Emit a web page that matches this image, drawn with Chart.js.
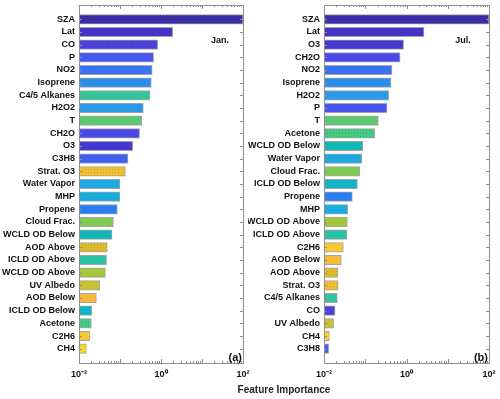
<!DOCTYPE html>
<html>
<head>
<meta charset="utf-8">
<script src="https://cdn.jsdelivr.net/npm/chart.js@4.4.1/dist/chart.umd.min.js"></script>
<style>
  body { margin: 0; background: #fff; }
  #wrap { position: relative; width: 500px; height: 399px; overflow: hidden; }
  #wrap canvas { position: absolute; top: 0; }
  #xtitle {
    position: absolute; left: 184px; width: 200px; top: 384px;
    text-align: center; font: bold 10px "Liberation Sans", Arial, sans-serif; color: #222;
  }
</style>
</head>
<body>
<div id="wrap">
  <canvas id="chartJan" style="left:0px"></canvas>
  <canvas id="chartJul" style="left:248px"></canvas>
  <div id="xtitle">Feature Importance</div>
</div>
<script>
// panel (a) January
var janLabels = ["SZA", "Lat", "CO", "P", "NO2", "Isoprene", "C4/5 Alkanes", "H2O2", "T", "CH2O",
    "O3", "C3H8", "Strat. O3", "Water Vapor", "MHP", "Propene", "Cloud Frac.", "WCLD OD Below",
    "AOD Above", "ICLD OD Above", "WCLD OD Above", "UV Albedo", "AOD Below", "ICLD OD Below",
    "Acetone", "C2H6", "CH4"];
var janValues = [100, 1.93, 0.83, 0.66, 0.61, 0.58, 0.54, 0.37, 0.34, 0.30,
    0.204, 0.157, 0.135, 0.100, 0.100, 0.086, 0.069, 0.064,
    0.049, 0.047, 0.044, 0.032, 0.0265, 0.0204,
    0.020, 0.0185, 0.0151];

// panel (b) July
var julLabels = ["SZA", "Lat", "O3", "CH2O", "NO2", "Isoprene", "H2O2", "P", "T", "Acetone",
    "WCLD OD Below", "Water Vapor", "Cloud Frac.", "ICLD OD Below", "Propene", "MHP",
    "WCLD OD Above", "ICLD OD Above", "C2H6", "AOD Below", "AOD Above", "Strat. O3",
    "C4/5 Alkanes", "CO", "UV Albedo", "CH4", "C3H8"];
var julValues = [100, 2.65, 0.85, 0.70, 0.445, 0.42, 0.37, 0.337, 0.207, 0.169,
    0.0866, 0.082, 0.0746, 0.0643, 0.0486, 0.0375,
    0.0368, 0.036, 0.0294, 0.0263, 0.0218, 0.022,
    0.021, 0.0185, 0.0171, 0.0135, 0.013];

var xTickValues = [0.01, 1, 100];
var xTickLabels = ["10\u207B\u00B2", "10\u2070", "10\u00B2"];

var FONT = '"Liberation Sans", Arial, sans-serif';
var AXIS = "#8f8f8f";

var colorOf = {
    "SZA": "#3b2ea8", "Lat": "#4433c6", "CO": "#4a44dc", "P": "#4556f0", "NO2": "#3a72f2",
    "Isoprene": "#2c8eea", "C4/5 Alkanes": "#34c69a", "H2O2": "#279ae8", "T": "#5cc870",
    "CH2O": "#4a48e6", "O3": "#4438d2", "C3H8": "#3e60f2", "Strat. O3": "#f2c02e",
    "Water Vapor": "#1ea8e2", "MHP": "#16aede", "Propene": "#2a7cf2", "Cloud Frac.": "#80cc52",
    "WCLD OD Below": "#12b8b8", "AOD Above": "#e0bc2c", "ICLD OD Above": "#28c2a6",
    "WCLD OD Above": "#a2c83a", "UV Albedo": "#c8c232", "AOD Below": "#f8b83a",
    "ICLD OD Below": "#0fb4c8", "Acetone": "#44cc84", "C2H6": "#f8c832", "CH4": "#f8d624"
};
// these bars have a fine dotted fill in the original
var dotted = ["CO", "Strat. O3", "AOD Above", "Acetone"];

function makePattern(color) {
    var c = document.createElement("canvas");
    c.width = 3; c.height = 3;
    var g = c.getContext("2d");
    g.fillStyle = color;
    g.fillRect(0, 0, 3, 3);
    g.fillStyle = "rgba(0,0,0,0.15)";
    g.fillRect(1, 1, 1, 1);
    return g.createPattern(c, "repeat");
}

function fillFor(name) {
    return dotted.indexOf(name) >= 0 ? makePattern(colorOf[name]) : colorOf[name];
}

// box, inward ticks and panel texts
var decor = {
    id: "decor",
    afterDatasetsDraw: function(chart, args, opts) {
        var ctx = chart.ctx, a = chart.chartArea;
        var xs = chart.scales.x, ys = chart.scales.y;
        ctx.save();
        ctx.strokeStyle = AXIS;
        ctx.lineWidth = 1;
        ctx.beginPath();
        // log ticks top and bottom
        for (var e = -2; e < 2; e++) {
            for (var m = 1; m <= 9; m++) {
                var v = m * Math.pow(10, e);
                var px = Math.round(xs.getPixelForValue(v)) + 0.5;
                var len = m === 1 ? 4 : 2;
                ctx.moveTo(px, a.bottom); ctx.lineTo(px, a.bottom - len);
                ctx.moveTo(px, a.top); ctx.lineTo(px, a.top + len);
            }
        }
        // row ticks left and right
        for (var i = 0; i < opts.rows; i++) {
            var py = Math.round(ys.getPixelForValue(i)) + 0.5;
            ctx.moveTo(a.left, py); ctx.lineTo(a.left + 3, py);
            ctx.moveTo(a.right, py); ctx.lineTo(a.right - 3, py);
        }
        ctx.stroke();
        ctx.strokeRect(Math.round(a.left) + 0.5, Math.round(a.top) + 0.5,
            Math.round(a.right - a.left), Math.round(a.bottom - a.top));

        ctx.fillStyle = "#111";
        ctx.font = "bold 9px " + FONT;
        ctx.textAlign = "center";
        ctx.textBaseline = "middle";
        ctx.fillText(opts.month, a.right - opts.monthDx, a.top + 36);
        ctx.font = "bold 11px " + FONT;
        ctx.textAlign = "right";
        ctx.textBaseline = "bottom";
        ctx.fillText(opts.tag, a.right - 1, a.bottom);
        ctx.restore();
    }
};

function makeChart(id, labels, values, w, axisWidth, padRight, month, monthDx, tag) {
    var canvas = document.getElementById(id);
    canvas.width = w;
    canvas.height = 399;
    canvas.style.width = w + "px";
    canvas.style.height = "399px";
    var points = [];
    for (var i = 0; i < labels.length; i++) {
        points.push({ x: values[i], y: i });
    }
    return new Chart(canvas, {
        type: "bar",
        data: {
            datasets: [{
                data: points,
                backgroundColor: labels.map(fillFor),
                borderColor: "rgba(90,90,90,0.55)",
                borderWidth: 1,
                barThickness: 9.5,
                borderSkipped: false,
            }],
        },
        plugins: [decor],
        options: {
            indexAxis: "y",
            responsive: false,
            animation: false,
            events: [],
            layout: { padding: { top: 5, right: padRight, left: 0, bottom: 0 } },
            plugins: {
                legend: { display: false },
                tooltip: { enabled: false },
                decor: { rows: labels.length, month: month, monthDx: monthDx, tag: tag },
            },
            scales: {
                x: {
                    type: "logarithmic",
                    min: 0.01,
                    max: 100,
                    grid: { display: false, drawTicks: false },
                    border: { display: false },
                    afterBuildTicks: function(scale) {
                        scale.ticks = xTickValues.map(function(v) { return { value: v }; });
                    },
                    afterFit: function(scale) {
                        scale.height = 36;
                        scale.paddingLeft = 0;
                        scale.paddingRight = 0;
                    },
                    ticks: {
                        autoSkip: false,
                        maxRotation: 0,
                        padding: 6,
                        color: "#111",
                        font: { family: FONT, size: 9, weight: "bold" },
                        callback: function(v) {
                            var k = xTickValues.indexOf(v);
                            return k >= 0 ? xTickLabels[k] : "";
                        },
                    },
                },
                y: {
                    type: "linear",
                    reverse: true,
                    offset: false,
                    min: -1.13,
                    max: labels.length - 1 + 1.13,
                    grid: { display: false, drawTicks: false },
                    border: { display: false },
                    afterBuildTicks: function(scale) {
                        scale.ticks = labels.map(function(l, i) { return { value: i }; });
                    },
                    afterFit: function(scale) {
                        scale.width = axisWidth;
                        scale.paddingTop = 0;
                        scale.paddingBottom = 0;
                    },
                    ticks: {
                        autoSkip: false,
                        padding: 4,
                        color: "#111",
                        font: { family: FONT, size: 9, weight: "bold" },
                        callback: function(v) { return labels[v]; },
                    },
                },
            },
        },
    });
}

makeChart("chartJan", janLabels, janValues, 250, 79, 7, "Jan.", 23, "(a)");
makeChart("chartJul", julLabels, julValues, 252, 76, 11, "Jul.", 26, "(b)");
</script>
</body>
</html>
